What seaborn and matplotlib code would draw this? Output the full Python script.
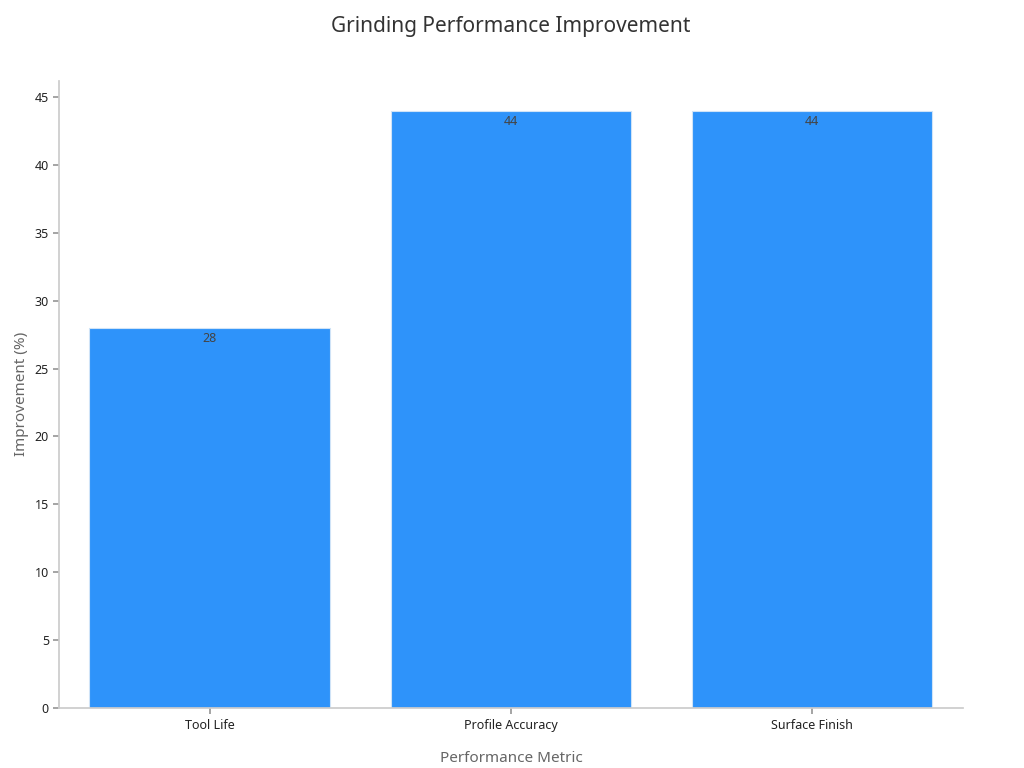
import matplotlib
matplotlib.use("Agg")
import matplotlib.pyplot as plt
import seaborn as sns
import pandas as pd

categories = ["Tool Life", "Profile Accuracy", "Surface Finish"]
values = [28, 44, 44]

sns.set_theme(style="white")
plt.rcParams['font.family'] = ['Noto Sans', 'DejaVu Sans']
df = pd.DataFrame({"Performance Metric": categories, "Improvement (%)": values})

fig, ax = plt.subplots(figsize=(10.24, 7.68), dpi=100)
fig.subplots_adjust(left=0.058, right=0.94, top=0.895, bottom=0.078)
sns.barplot(data=df, x="Performance Metric", y="Improvement (%)", color="#2e93fa",
            saturation=1, width=0.8, ax=ax, edgecolor="#cfe3f7", linewidth=0.8)
for i, v in enumerate(values):
    ax.text(i, v - 0.3, str(v), ha="center", va="top", fontsize=9, color="#444444")
ax.set_ylim(0, 46.2)
ax.set_yticks(range(0, 46, 5))
ax.set_xlim(-0.5, 2.5)
ax.set_title("Grinding Performance Improvement", fontsize=15, color="#333333", pad=35)
ax.set_xlabel("Performance Metric", fontsize=11, color="#666666", labelpad=14)
ax.set_ylabel("Improvement (%)", fontsize=11, color="#666666")
ax.tick_params(axis="both", labelsize=9, colors="#222222", length=4, left=True, bottom=True)
ax.tick_params(axis="both", color="#999999")
for s in ["top", "right"]:
    ax.spines[s].set_visible(False)
for s in ["left", "bottom"]:
    ax.spines[s].set_color("#cccccc")
fig.savefig("out.png")
